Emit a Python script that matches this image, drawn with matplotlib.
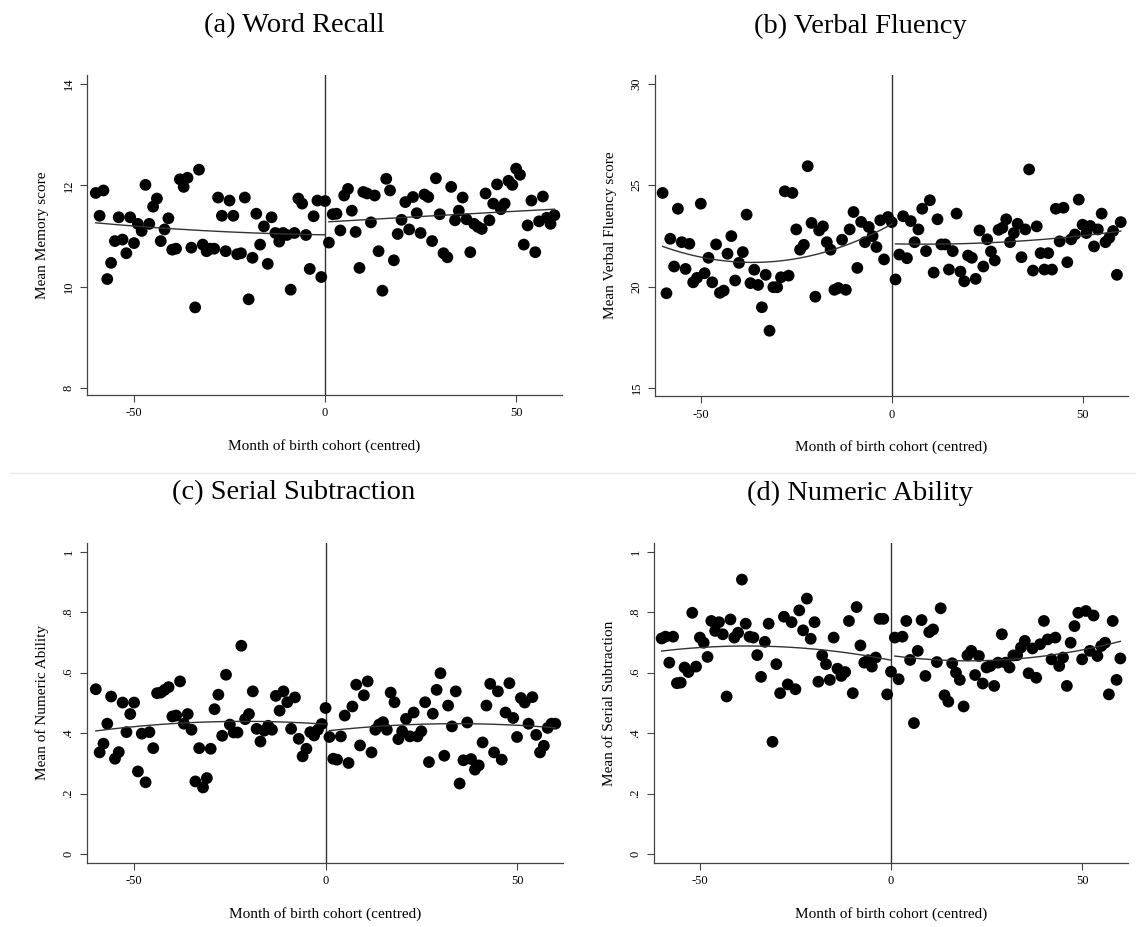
import numpy as np
import matplotlib
matplotlib.use("Agg")
import matplotlib.pyplot as plt
from matplotlib.lines import Line2D

plt.rcParams['font.family'] = ['Liberation Serif', 'DejaVu Serif']

# ---------------- data ----------------
months = np.arange(-60, 61)          # month of birth cohort (centred)
cutoff = 0

titles = ["(a) Word Recall", "(b) Verbal Fluency", "(c) Serial Subtraction", "(d) Numeric Ability"]
ylabels = ["Mean Memory score", "Mean Verbal Fluency score",
           "Mean of Numeric Ability", "Mean of Serial Subtraction"]
xlabel = "Month of birth cohort (centred)"

x_ticks = [-50, 0, 50]
x_ticklabels = ["-50", "0", "50"]
yticks_a = [8, 10, 12, 14]
yticks_b = [15, 20, 25, 30]
yticks_cd = [0, 0.2, 0.4, 0.6, 0.8, 1]
yticklabels_cd = ["0", ".2", ".4", ".6", ".8", "1"]

word_recall = [
    11.85, 11.4, 11.9, 10.15, 10.47, 10.9, 11.37, 10.93, 10.66, 11.37,
    10.86, 11.24, 11.1, 12.01, 11.24, 11.58, 11.74, 10.9, 11.13, 11.35,
    10.73, 10.75, 12.12, 11.97, 12.15, 10.77, 9.59, 12.31, 10.83, 10.7,
    10.75, 10.75, 11.76, 11.4, 10.7, 11.7, 11.4, 10.64, 10.66, 11.76,
    9.75, 10.57, 11.44, 10.83, 11.19, 10.45, 11.37, 11.06, 10.89, 11.06,
    11.02, 9.94, 11.06, 11.74, 11.64, 11.02, 10.35, 11.39, 11.7, 10.19,
    11.69,
    10.87, 11.43, 11.44, 11.11, 11.8, 11.93, 11.5, 11.08, 10.37, 11.87,
    11.84, 11.27, 11.8, 10.7, 9.92, 12.13, 11.9, 10.52, 11.04, 11.32,
    11.67, 11.13, 11.77, 11.45, 11.06, 11.82, 11.77, 10.9, 12.14, 11.43,
    10.66, 10.58, 11.97, 11.31, 11.5, 11.76, 11.33, 10.68, 11.24, 11.18,
    11.14, 11.84, 11.31, 11.64, 12.02, 11.53, 11.64, 12.09, 12.01, 12.33,
    12.21, 10.83, 11.21, 11.7, 10.68, 11.29, 11.78, 11.36, 11.24, 11.41,
]

verbal_fluency = [
    24.62, 19.67, 22.36, 20.99, 23.84, 22.19, 20.87, 22.11, 20.21, 20.43,
    24.09, 20.66, 21.42, 20.21, 22.08, 19.69, 19.8, 21.62, 22.49, 20.3,
    21.17, 21.7, 23.55, 20.17, 20.83, 20.08, 18.98, 20.58, 17.82, 19.97,
    19.97, 20.46, 24.7, 20.54, 24.62, 22.82, 21.82, 22.06, 25.94, 23.14,
    19.5, 22.77, 22.97, 22.19, 21.82, 19.84, 19.93, 22.31, 19.84, 22.82,
    23.68, 20.92, 23.19, 22.19, 22.94, 22.49, 21.95, 23.27, 21.34, 23.43,
    23.18,
    20.35, 21.58, 23.47, 21.4, 23.23, 22.19, 22.82, 23.84, 21.75, 24.26,
    20.69, 23.32, 22.08, 22.08, 20.84, 21.75, 23.6, 20.74, 20.26, 21.53,
    21.42, 20.38, 22.77, 20.99, 22.33, 21.73, 21.29, 22.8, 22.9, 23.32,
    22.19, 22.64, 23.1, 21.45, 22.82, 25.78, 20.79, 22.97, 21.65, 20.84,
    21.65, 20.84, 23.84, 22.23, 23.89, 21.2, 22.33, 22.57, 24.29, 23.05,
    22.64, 22.99, 21.98, 22.82, 23.6, 22.19, 22.41, 22.74, 20.58, 23.18,
]

numeric_ability = [
    0.545, 0.336, 0.365, 0.431, 0.521, 0.315, 0.337, 0.501, 0.403, 0.463,
    0.501, 0.273, 0.398, 0.237, 0.403, 0.35, 0.532, 0.534, 0.543, 0.552,
    0.455, 0.458, 0.571, 0.431, 0.463, 0.411, 0.24, 0.35, 0.22, 0.251,
    0.348, 0.479, 0.527, 0.391, 0.593, 0.428, 0.402, 0.402, 0.689, 0.446,
    0.463, 0.538, 0.414, 0.372, 0.408, 0.424, 0.411, 0.523, 0.474, 0.538,
    0.502, 0.414, 0.518, 0.381, 0.323, 0.348, 0.403, 0.392, 0.411, 0.43,
    0.483,
    0.387, 0.315, 0.312, 0.389, 0.458, 0.301, 0.488, 0.56, 0.359, 0.525,
    0.571, 0.336, 0.411, 0.428, 0.436, 0.411, 0.534, 0.502, 0.38, 0.406,
    0.447, 0.389, 0.468, 0.389, 0.406, 0.502, 0.304, 0.464, 0.543, 0.598,
    0.325, 0.491, 0.422, 0.538, 0.233, 0.31, 0.435, 0.314, 0.279, 0.293,
    0.369, 0.491, 0.563, 0.336, 0.538, 0.312, 0.468, 0.565, 0.45, 0.387,
    0.516, 0.501, 0.431, 0.519, 0.394, 0.336, 0.358, 0.417, 0.431, 0.431,
]

serial_subtraction = [
    0.713, 0.719, 0.633, 0.719, 0.565, 0.567, 0.617, 0.602, 0.798, 0.62,
    0.716, 0.699, 0.652, 0.771, 0.738, 0.767, 0.727, 0.521, 0.776, 0.716,
    0.732, 0.908, 0.762, 0.719, 0.716, 0.658, 0.586, 0.702, 0.762, 0.371,
    0.628, 0.532, 0.785, 0.561, 0.767, 0.545, 0.806, 0.74, 0.845, 0.712,
    0.767, 0.57, 0.657, 0.628, 0.576, 0.716, 0.613, 0.589, 0.602, 0.771,
    0.532, 0.817, 0.69, 0.633, 0.641, 0.62, 0.65, 0.778, 0.778, 0.528,
    0.603,
    0.716, 0.578, 0.719, 0.771, 0.642, 0.433, 0.672, 0.774, 0.589, 0.734,
    0.743, 0.635, 0.813, 0.525, 0.504, 0.631, 0.6, 0.576, 0.488, 0.657,
    0.672, 0.592, 0.655, 0.564, 0.617, 0.622, 0.556, 0.633, 0.727, 0.633,
    0.617, 0.657, 0.658, 0.683, 0.705, 0.598, 0.68, 0.583, 0.694, 0.771,
    0.71, 0.644, 0.716, 0.622, 0.65, 0.556, 0.699, 0.754, 0.798, 0.644,
    0.804, 0.672, 0.789, 0.655, 0.688, 0.699, 0.528, 0.771, 0.576, 0.647,
]

panels = [
    dict(y=word_recall, yticks=yticks_a, yticklabels=[str(v) for v in yticks_a],
         ylim=(7.86, 14.18)),
    dict(y=verbal_fluency, yticks=yticks_b, yticklabels=[str(v) for v in yticks_b],
         ylim=(14.6, 30.44)),
    dict(y=numeric_ability, yticks=yticks_cd, yticklabels=yticklabels_cd,
         ylim=(-0.03, 1.029)),
    dict(y=serial_subtraction, yticks=yticks_cd, yticklabels=yticklabels_cd,
         ylim=(-0.03, 1.029)),
]

# ---------------- layout ----------------
W, H = 1136, 927
fig = plt.figure(figsize=(W / 100, H / 100), dpi=100)
fig.patch.set_facecolor("white")

# axes rectangles in pixels: left, top, right, bottom
rects_px = [(87, 75, 562, 395), (655, 75, 1128, 396),
            (87, 543, 563, 863), (654, 543, 1128, 863)]
xlims = [(-62.3, 62.0), (-62.0, 61.9), (-62.3, 62.0), (-62.0, 62.0)]
title_pos = [(294, 26), (860, 26), (294, 493), (860, 493)]

spine_col = "#444444"
for i, p in enumerate(panels):
    l, t, r, b = rects_px[i]
    ax = fig.add_axes([l / W, 1 - b / H, (r - l) / W, (b - t) / H])
    x = months
    y = np.asarray(p["y"])
    ax.scatter(x, y, s=72, color="black", edgecolors="none", zorder=3)
    # quadratic fits on each side of the cutoff
    for mask in (x <= cutoff, x > cutoff):
        coef = np.polyfit(x[mask], y[mask], 2)
        xx = np.linspace(x[mask].min(), x[mask].max(), 200)
        ax.plot(xx, np.polyval(coef, xx), color="#333333", lw=1.0, zorder=4)
    ax.axvline(cutoff, color="#333333", lw=1.0, zorder=2)

    ax.set_xlim(*xlims[i])
    ax.set_ylim(*p["ylim"])
    for s in ("top", "right"):
        ax.spines[s].set_visible(False)
    for s in ("left", "bottom"):
        ax.spines[s].set_color(spine_col)
        ax.spines[s].set_linewidth(0.9)
    ax.set_xticks(x_ticks)
    ax.set_xticklabels(x_ticklabels, fontsize=9)
    ax.set_yticks(p["yticks"])
    ax.set_yticklabels(p["yticklabels"], fontsize=9, rotation=90, va="center")
    ax.tick_params(axis="both", direction="out", length=5, width=0.8,
                   color=spine_col, pad=4)
    ax.set_xlabel(xlabel, fontsize=11, labelpad=14)
    ax.set_ylabel(ylabels[i], fontsize=11, labelpad=10)

    tx, ty = title_pos[i]
    fig.text(tx / W, 1 - ty / H, titles[i], ha="center", va="center", fontsize=20.5)

# faint separator between rows
fig.add_artist(Line2D([10 / W, 1.0], [1 - 473 / H, 1 - 473 / H],
                      transform=fig.transFigure, color="#e6eaee", lw=1))

fig.savefig("out.png", dpi=100, facecolor="white")
